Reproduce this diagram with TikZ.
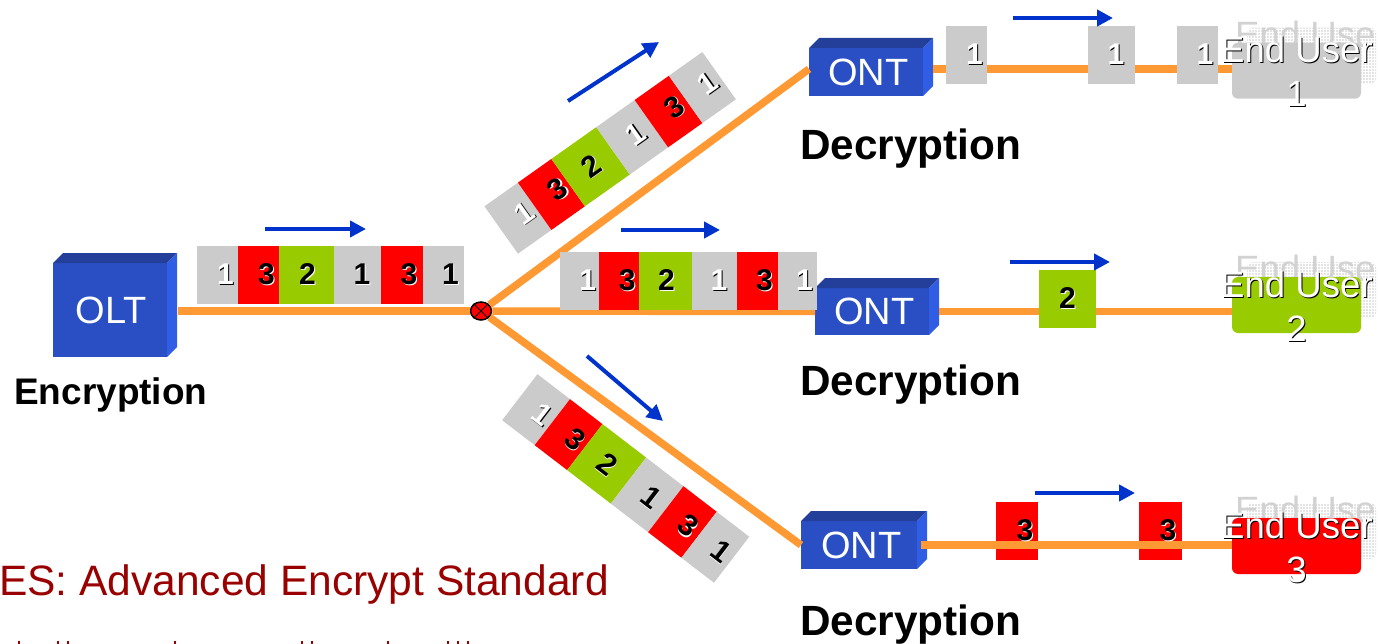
\documentclass[tikz,border=0pt]{standalone}
\usepackage{fontspec}
\setmainfont{Liberation Sans}
\usetikzlibrary{arrows.meta,calc,patterns,shapes.geometric}

\definecolor{fiberorange}{HTML}{FF9933}
\definecolor{dirblue}{HTML}{0033CC}
\definecolor{frontblue}{HTML}{2A4FC4}
\definecolor{topblue}{HTML}{233F99}
\definecolor{sideblue}{HTML}{2F5EE4}
\definecolor{cellgray}{HTML}{CBCBCB}
\definecolor{cellred}{HTML}{FF0000}
\definecolor{cellgreen}{HTML}{99CC00}
\definecolor{notered}{HTML}{990000}
\definecolor{ghostgray}{HTML}{D2D2D2}

\newcommand{\fsize}[1]{\fontsize{#1}{#1}\selectfont}
\newcommand{\shadowed}[3]{\rlap{\raisebox{-1pt}{\kern1pt\textcolor{#2}{#3}}}\textcolor{#1}{#3}}
\newcommand{\onew}{\shadowed{white}{black}{1}}
\newcommand{\oneb}{\shadowed{black}{white}{1}}
\newcommand{\twob}{\shadowed{black}{white}{2}}
\newcommand{\threeb}{\shadowed{black}{white}{3}}

\tikzset{
	fiberline/.style={line width=7.5pt,fiberorange},
	dirarrow/.style={line width=4pt,dirblue,-{Triangle[length=16pt,width=16pt]}},
	cellbox/.style={inner sep=0pt,outer sep=0pt,minimum height=58,font=\bfseries\fsize{30}},
	blockfront/.style={fill=frontblue,text=white,inner sep=0pt,outer sep=0pt,font=\fsize{38}},
	blocktop/.style={fill=topblue},
	blockside/.style={fill=sideblue},
	userfront/.style={inner sep=0pt,outer sep=0pt,minimum width=129,minimum height=56,rounded corners=6pt},
	userghost/.style={userfront,preaction={fill=ghostgray!60},pattern=grid,pattern color=white},
	usertext/.style={align=center,inner sep=0pt,font=\fontsize{36.6}{44}\selectfont},
	boldlabel/.style={anchor=base west,inner sep=0pt,font=\bfseries\fsize{42.3}},
}

% name, centre, width, height, label
\newcommand{\blockbox}[5]{
	\node[blockfront,minimum width=#3,minimum height=#4] (#1) at #2 {#5};
	\fill[blocktop] (#1.north west)--++(10,-10)--++(#3,0)--(#1.north east)--cycle;
	\fill[blockside] (#1.north east)--++(10,-10)--++(0,#4)--(#1.south east)--cycle;
}
% name, start, angle, scale, fourth digit, sixth digit
\newcommand{\packetstrip}[6]{
	\foreach \dist/\wid/\col/\off/\digit [count=\n] in {20.5/41/cellgray/16/\onew,61.5/41/cellred/16/\threeb,109.5/55/cellgreen/2/\twob,160.5/47/cellgray/9/#5,205/42/cellred/14/\threeb,246.5/41/cellgray/14/#6}
		\node[cellbox,fill=\col,rotate=-#3,minimum width=#4*\wid] (#1\n) at ($#2+(#3:{#4*\dist})$) {\hspace*{\off pt}\digit};
}

\begin{document}
\begin{tikzpicture}[x=1pt,y=-1pt]
	\useasboundingbox (0,0) rectangle (1380,644);
	\clip (0,0) rectangle (1377,644);

	\blockbox{olt}{(110,310)}{114}{94}{\hspace*{2pt}OLT}
	\blockbox{ontup}{(866,72)}{114}{48}{\hspace*{5pt}ONT}
	\blockbox{ontmid}{(872,311.5)}{114}{47}{\hspace*{5pt}ONT}
	\blockbox{ontlow}{(859,545)}{116}{48}{\hspace*{5pt}ONT}
	\node[ellipse,draw,line width=1.5pt,fill=cellred,inner sep=0pt,minimum width=21,minimum height=18] (split) at (481,311) {};
	\draw[line width=1pt] (split.45)--(split.225);
	\draw[line width=1pt] (split.135)--(split.315);

	% users
	\node[userghost] (userupghost) at (1311.5,55.7) {};
	\node[usertext,text=ghostgray] (userupghosttext) at (1311.5,56) {End User\\1};
	\node[userfront,fill=cellgray] (userup) at (1296.5,70.7) {};
	\node[userghost] (usermidghost) at (1311.5,290) {};
	\node[usertext,text=ghostgray] (usermidghosttext) at (1311.5,290) {End User\\2};
	\node[userfront,fill=cellgreen] (usermid) at (1296.5,305) {};
	\node[userghost] (userlowghost) at (1311.5,531) {};
	\node[usertext,text=ghostgray] (userlowghosttext) at (1311.5,531) {End User\\3};
	\node[userfront,fill=cellred] (userlow) at (1296.5,546) {};

	% fibers
	\draw[fiberline,shorten <=11pt] ([yshift=-1pt]olt.east)--(split);
	\draw[fiberline] (split)--([yshift=3pt]ontup.west);
	\draw[fiberline] (split)--(ontmid.west);
	\draw[fiberline] (split)--(ontlow.west);
	\draw[fiberline,shorten <=10pt] ([yshift=3pt]ontup.east)--([yshift=3pt]ontup.east -| userup.west);
	\draw[fiberline,shorten <=10pt] (ontmid.east)--(ontmid.east -| usermid.west);

	% packets
	\packetstrip{trunk}{(197,275)}{0}{1}{\oneb}{\oneb}
	\packetstrip{stripup}{(501.2,230)}{-35.3}{1}{\onew}{\onew}
	\packetstrip{stripmid}{(560,281)}{0}{0.963}{\onew}{\onew}
	\packetstrip{striplow}{(519.8,397.2)}{37.5}{1}{\oneb}{\oneb}

	\node[cellbox,fill=cellgray,minimum width=41] (cellupa) at (966.5,55) {\hspace*{16pt}\onew};
	\node[cellbox,fill=cellgray,minimum width=47] (cellupb) at (1111.5,55) {\hspace*{9pt}\onew};
	\node[cellbox,fill=cellgray,minimum width=41] (cellupc) at (1197.5,55) {\hspace*{15pt}\onew};
	\node[cellbox,fill=cellgreen,minimum width=57] (cellmid) at (1067.5,299) {\twob};
	\node[cellbox,fill=cellred,minimum width=42] (celllowa) at (1017,531) {};
	\node[cellbox,fill=cellred,minimum width=43] (celllowb) at (1160.5,531) {};
	\draw[fiberline,shorten <=4pt] (ontlow.east)--(ontlow.east -| userlow.west);
	\node[font=\bfseries\fsize{30},inner sep=0pt] (digitlowa) at (1025,531) {\threeb};
	\node[font=\bfseries\fsize{30},inner sep=0pt] (digitlowb) at (1168,531) {\threeb};

	% directions
	\foreach \xa/\ya/\xb/\yb in {265/229/366/229,621/230/720/230,568/101/659/42,587/356/663/421,1013/18/1113/18,1010/262/1110/262,1035/493/1135/493}
		\draw[dirarrow] (\xa,\ya)--(\xb,\yb);

	% labels
	\node[usertext,text=black] (userupshade) at (1297.5,72.7) {End User\\1};
	\node[usertext,text=white] (userupname) at (1296.5,71.7) {End User\\1};
	\node[usertext,text=black] (usermidshade) at (1297.5,307) {End User\\2};
	\node[usertext,text=white] (usermidname) at (1296.5,306) {End User\\2};
	\node[usertext,text=black] (userlowshade) at (1297.5,548) {End User\\3};
	\node[usertext,text=white] (userlowname) at (1296.5,547) {End User\\3};
	\node[boldlabel,font=\bfseries\fsize{37}] (enc) at (14,404) {Encryption};
	\node[boldlabel] (decup) at (800,160) {Decryption};
	\node[boldlabel] (decmid) at (800,395) {Decryption};
	\node[boldlabel] (declow) at (800,635) {Decryption};
	\node[anchor=base west,inner sep=0pt,text=notered,font=\fsize{42.5}] (aes) at (-1,595) {ES: Advanced Encrypt Standard};
	\foreach \x in {19,58,68,175,302,312,388,448,458,468}
		\fill[notered] ({\x-1},641) rectangle ({\x+1},644);
\end{tikzpicture}
\end{document}
